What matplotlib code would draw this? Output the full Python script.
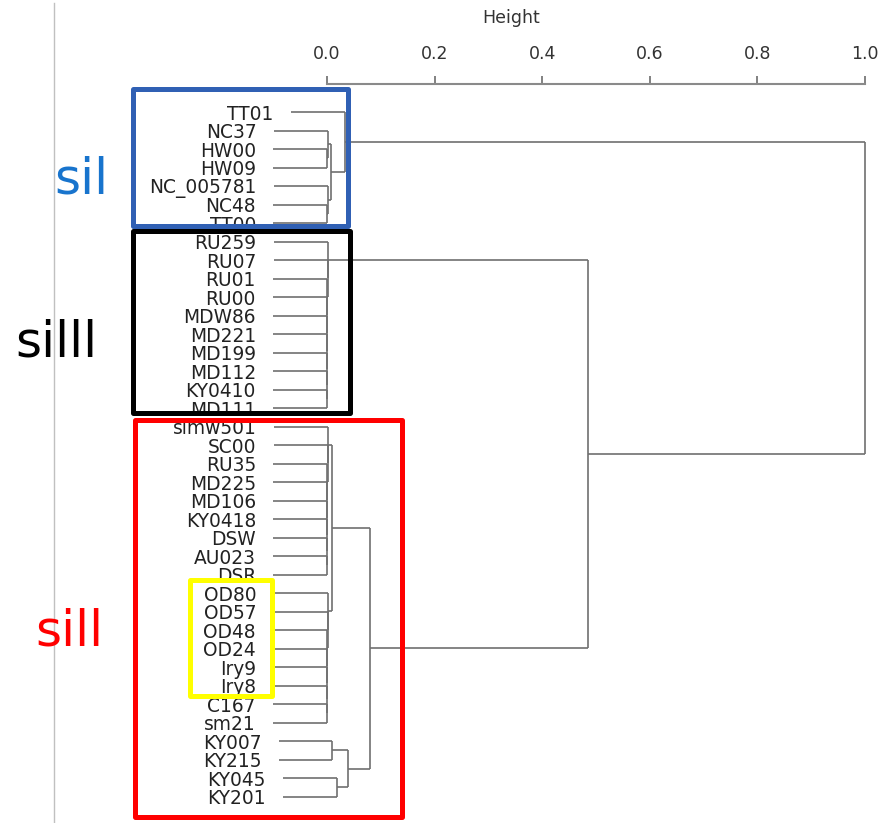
import matplotlib.pyplot as plt
from matplotlib.patches import Rectangle

# leaves from top to bottom
leaf_labels = ['TT01', 'NC37', 'HW00', 'HW09', 'NC_005781', 'NC48', 'TT00',
               'RU259', 'RU07', 'RU01', 'RU00', 'MDW86', 'MD221', 'MD199',
               'MD112', 'KY0410', 'MD111',
               'simw501', 'SC00', 'RU35', 'MD225', 'MD106', 'KY0418', 'DSW',
               'AU023', 'DSR', 'OD80', 'OD57', 'OD48', 'OD24', 'Iry9', 'Iry8',
               'C167', 'sm21', 'KY007', 'KY215', 'KY045', 'KY201']

# merge table, R hclust style: negative = leaf number, positive = earlier row
merges = [
    (-3, -4, 0.000), (-2, 1, 0.001),                  # NC37 HW00 HW09
    (-6, -7, 0.000), (-5, 3, 0.001),                  # NC_005781 NC48 TT00
    (2, 4, 0.008), (-1, 5, 0.033),                    # sil
    (-16, -17, 0.000), (-15, 7, 0.000), (-14, 8, 0.000), (-13, 9, 0.000),
    (-12, 10, 0.000), (-11, 11, 0.000), (-10, 12, 0.000), (-9, 13, 0.001),
    (-8, 14, 0.001),                                  # silll
    (-25, -26, 0.000), (-24, 16, 0.000), (-23, 17, 0.000), (-22, 18, 0.000),
    (-21, 19, 0.000), (-20, 20, 0.000), (-19, 21, 0.001), (-18, 22, 0.001),
    (-33, -34, 0.000), (-32, 24, 0.000), (-31, 25, 0.000), (-30, 26, 0.000),
    (-29, 27, 0.000), (-28, 28, 0.001), (-27, 29, 0.001),
    (23, 30, 0.010),
    (-35, -36, 0.010), (-37, -38, 0.018), (32, 33, 0.039),
    (31, 34, 0.079),                                  # sill
    (15, 35, 0.485),
    (6, 36, 1.000),
]
hang = 0.1

# highlight boxes: x from, x to, leaf pos from, leaf pos to, colour
boxes = [(-0.361, 0.039, -1.24, 6.16, '#3060b4'),
         (-0.361, 0.043, 6.43, 16.27, 'black'),
         (-0.357, 0.139, 16.65, 38.11, '#ff0000'),
         (-0.255, -0.102, 25.30, 31.57, '#ffff00')]

group_names = ['sil', 'silll', 'sill']
group_x = [-0.457, -0.503, -0.478]
group_y = [4.43, 13.24, 28.86]
group_colors = ['#1874cd', 'black', '#ff0000']

fig = plt.figure(figsize=(8.8, 8.23), dpi=100)
ax = fig.add_axes([0, 0, 1, 739 / 823])

line_col = '#707070'
node_pos = {}
node_h = {}
leaf_start = {}
for i, (a, b, h) in enumerate(merges, start=1):
    ps = []
    for c in (a, b):
        if c < 0:
            p = -c - 1
            ch = h - hang
            leaf_start[p] = ch
        else:
            p = node_pos[c]
            ch = node_h[c]
        ax.plot([ch, h], [p, p], color=line_col, lw=1.2, solid_capstyle='butt')
        ps.append(p)
    ax.plot([h, h], ps, color=line_col, lw=1.2, solid_capstyle='butt')
    node_pos[i] = (ps[0] + ps[1]) / 2
    node_h[i] = h

for p, lab in enumerate(leaf_labels):
    ax.text(leaf_start[p] - 0.032, p, lab, ha='right', va='center_baseline',
            fontsize=13.4, color='#222222')

for x0, x1, y0, y1, col in boxes:
    ax.add_patch(Rectangle((x0, y0), x1 - x0, y1 - y0, fill=False,
                           edgecolor=col, lw=3.6, joinstyle='round',
                           clip_on=False, zorder=5))

for name, x, y, col in zip(group_names, group_x, group_y, group_colors):
    ax.text(x, y, name, ha='center', va='baseline', fontsize=36, color=col)

# thin grey slide border on the left
ax.plot([-0.507, -0.507], [-5.9, 38.5], color='#c0c0c0', lw=1, clip_on=False)

ax.set_xlim(-327 / 538, 553 / 538)
ax.set_ylim(38.43, -1.514)

for s in ['left', 'right', 'bottom']:
    ax.spines[s].set_visible(False)
ax.spines['top'].set_bounds(0, 1)
ax.spines['top'].set_color('#8a8a8a')
ax.spines['top'].set_linewidth(1.5)
ax.xaxis.tick_top()
ax.set_xticks([0, 0.2, 0.4, 0.6, 0.8, 1.0])
ax.set_xticklabels(['0.0', '0.2', '0.4', '0.6', '0.8', '1.0'])
ax.tick_params(axis='x', length=6, width=1.3, color='#777777', pad=9,
               labelsize=12.5, labelcolor='#333333')
ax.set_yticks([])
ax.patch.set_alpha(0)

fig.text(511 / 880, 1 - 18 / 823, 'Height', ha='center', va='center',
         fontsize=12.5, color='#333333')

fig.savefig('out.png', dpi=100)
